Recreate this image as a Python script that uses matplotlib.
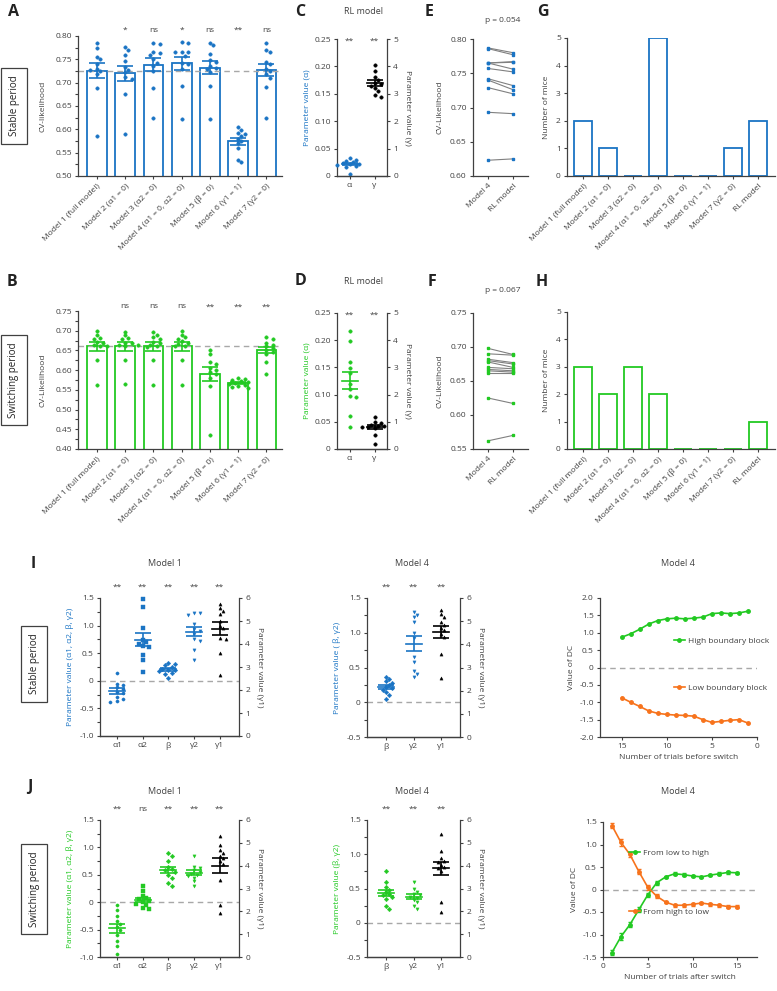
import matplotlib
matplotlib.use('Agg')
import matplotlib.pyplot as plt
from matplotlib.lines import Line2D
from matplotlib.ticker import MultipleLocator
import numpy as np

W, H = 777, 991
BLUE = '#1a74c4'
GREEN = '#22c922'
ORANGE = '#f7731c'
GRAY = '#a8a8a8'
TXT = '#404040'

plt.rcParams['font.family'] = ['Open Sans', 'DejaVu Sans']
plt.rcParams['font.size'] = 6
plt.rcParams['text.color'] = TXT
plt.rcParams['axes.labelcolor'] = TXT
plt.rcParams['xtick.color'] = TXT
plt.rcParams['ytick.color'] = TXT

# ---------------- data ----------------
models7 = ['Model 1 (full model)', 'Model 2 (α1 = 0)', 'Model 3 (α2 = 0)',
           'Model 4 (α1 = 0, α2 = 0)', 'Model 5 (β = 0)', 'Model 6 (γ1 = 1)',
           'Model 7 (γ2 = 0)']
models8 = models7 + ['RL model']

stable_cv = [
    [0.785, 0.775, 0.755, 0.750, 0.740, 0.730, 0.725, 0.728, 0.718, 0.688, 0.585],
    [0.777, 0.770, 0.760, 0.747, 0.733, 0.728, 0.722, 0.712, 0.708, 0.675, 0.590],
    [0.785, 0.782, 0.765, 0.763, 0.760, 0.750, 0.742, 0.735, 0.725, 0.688, 0.625],
    [0.787, 0.786, 0.765, 0.765, 0.765, 0.757, 0.742, 0.740, 0.729, 0.693, 0.623],
    [0.785, 0.780, 0.762, 0.748, 0.745, 0.735, 0.732, 0.730, 0.722, 0.692, 0.622],
    [0.605, 0.598, 0.593, 0.590, 0.585, 0.580, 0.575, 0.570, 0.560, 0.535, 0.530],
    [0.785, 0.770, 0.765, 0.745, 0.740, 0.730, 0.725, 0.718, 0.710, 0.690, 0.625],
]
stable_sig = ['', '*', 'ns', '*', 'ns', '**', 'ns']

switch_cv = [
    [0.700, 0.690, 0.681, 0.679, 0.672, 0.668, 0.665, 0.662, 0.660, 0.625, 0.562],
    [0.698, 0.688, 0.682, 0.678, 0.670, 0.668, 0.665, 0.663, 0.660, 0.625, 0.565],
    [0.698, 0.690, 0.684, 0.680, 0.672, 0.668, 0.664, 0.662, 0.658, 0.625, 0.562],
    [0.700, 0.690, 0.683, 0.679, 0.673, 0.668, 0.666, 0.662, 0.660, 0.625, 0.562],
    [0.650, 0.640, 0.620, 0.615, 0.605, 0.600, 0.595, 0.590, 0.580, 0.560, 0.435],
    [0.580, 0.578, 0.575, 0.572, 0.570, 0.568, 0.566, 0.563, 0.560, 0.558, 0.555],
    [0.685, 0.680, 0.670, 0.665, 0.660, 0.655, 0.650, 0.645, 0.640, 0.620, 0.590],
]
switch_sig = ['', 'ns', 'ns', 'ns', '**', '**', '**']

rl_stable_alpha = [0.032, 0.030, 0.027, 0.025, 0.023, 0.022, 0.021, 0.020, 0.018, 0.016, 0.004]
rl_stable_gamma = [4.05, 3.85, 3.60, 3.50, 3.40, 3.35, 3.30, 3.20, 3.10, 2.95, 2.90]
rl_switch_alpha = [0.217, 0.198, 0.160, 0.148, 0.140, 0.120, 0.110, 0.097, 0.095, 0.060, 0.040]
rl_switch_gamma = [1.16, 1.00, 0.96, 0.90, 0.86, 0.84, 0.80, 0.80, 0.76, 0.50, 0.20]

e_model4 = [0.787, 0.786, 0.765, 0.765, 0.765, 0.757, 0.742, 0.740, 0.729, 0.693, 0.623]
e_rl = [0.780, 0.777, 0.767, 0.766, 0.756, 0.752, 0.732, 0.726, 0.720, 0.691, 0.625]
f_model4 = [0.698, 0.690, 0.682, 0.680, 0.678, 0.670, 0.667, 0.665, 0.662, 0.625, 0.562]
f_rl = [0.689, 0.688, 0.677, 0.675, 0.670, 0.668, 0.665, 0.663, 0.662, 0.617, 0.570]

best_stable = [2, 1, 0, 5, 0, 0, 1, 2]
best_switch = [3, 2, 3, 2, 0, 0, 0, 1]

params_m1 = ['α1', 'α2', 'β', 'γ2', 'γ1']
params_m4 = ['β', 'γ2', 'γ1']
markers_m1 = ['o', 's', 'D', 'v', '^']
markers_m4 = ['D', 'v', '^']

i_m1 = [
    [0.15, -0.05, -0.08, -0.12, -0.15, -0.20, -0.22, -0.30, -0.33, -0.37, -0.38],
    [1.48, 1.34, 0.96, 0.74, 0.70, 0.67, 0.63, 0.62, 0.47, 0.38, 0.16],
    [0.32, 0.30, 0.28, 0.25, 0.22, 0.20, 0.20, 0.18, 0.15, 0.12, 0.05],
    [1.23, 1.22, 1.20, 1.03, 0.93, 0.90, 0.85, 0.75, 0.72, 0.56, 0.38],
]
i_m1_g1 = [5.75, 5.55, 5.45, 5.30, 5.00, 4.80, 4.70, 4.25, 4.20, 3.60, 2.65]
i_m1_sig = ['**', '**', '**', '**', '**']

i_m4 = [
    [0.37, 0.34, 0.30, 0.28, 0.25, 0.22, 0.20, 0.18, 0.15, 0.10, 0.05],
    [1.30, 1.25, 1.22, 1.15, 1.00, 0.92, 0.65, 0.58, 0.45, 0.40, 0.36],
]
i_m4_g1 = [5.50, 5.30, 5.20, 4.95, 4.85, 4.70, 4.60, 4.45, 4.30, 3.60, 2.55]
i_m4_sig = ['**', '**', '**']

j_m1 = [
    [-0.05, -0.15, -0.25, -0.35, -0.40, -0.45, -0.50, -0.60, -0.70, -0.80, -0.95],
    [0.30, 0.20, 0.12, 0.08, 0.05, 0.03, 0.00, -0.03, -0.05, -0.10, -0.12],
    [0.90, 0.85, 0.75, 0.65, 0.60, 0.58, 0.55, 0.50, 0.45, 0.35, 0.30],
    [0.85, 0.65, 0.62, 0.58, 0.55, 0.52, 0.50, 0.48, 0.45, 0.38, 0.30],
]
j_m1_g1 = [5.28, 4.92, 4.68, 4.56, 4.44, 4.32, 4.20, 4.08, 3.36, 2.28, 1.92]
j_m1_sig = ['**', 'ns', '**', '**', '**']

j_m4 = [
    [0.75, 0.60, 0.52, 0.48, 0.45, 0.42, 0.40, 0.38, 0.35, 0.25, 0.20],
    [0.60, 0.50, 0.45, 0.42, 0.40, 0.38, 0.36, 0.33, 0.30, 0.25, 0.20],
]
j_m4_g1 = [5.40, 4.65, 4.35, 4.20, 4.14, 4.05, 3.96, 3.90, 3.75, 2.40, 1.95]
j_m4_sig = ['**', '**', '**']

trials = np.arange(1, 16)
dc_high = [1.62, 1.57, 1.55, 1.57, 1.55, 1.45, 1.42, 1.40, 1.42, 1.40, 1.35, 1.25, 1.10, 0.97, 0.87]
dc_low = [-1.60, -1.50, -1.52, -1.55, -1.58, -1.50, -1.40, -1.38, -1.37, -1.35, -1.32, -1.25, -1.12, -1.00, -0.87]
dc_low_to_high = [-1.40, -1.05, -0.78, -0.45, -0.12, 0.15, 0.28, 0.35, 0.33, 0.30, 0.28, 0.32, 0.35, 0.38, 0.37]
dc_low_to_high_sem = [0.06, 0.08, 0.06, 0.06, 0.05, 0.04, 0.03, 0.03, 0.03, 0.03, 0.03, 0.03, 0.03, 0.03, 0.03]
dc_high_to_low = [1.42, 1.05, 0.78, 0.40, 0.05, -0.15, -0.28, -0.35, -0.35, -0.33, -0.30, -0.33, -0.35, -0.38, -0.38]
dc_high_to_low_sem = [0.06, 0.08, 0.06, 0.06, 0.05, 0.04, 0.03, 0.03, 0.03, 0.03, 0.03, 0.03, 0.03, 0.03, 0.03]

# ---------------- helpers ----------------
fig = plt.figure(figsize=(W / 100, H / 100), dpi=100)


def add_ax(l, t, r, b):
    return fig.add_axes([l / W, 1 - b / H, (r - l) / W, (b - t) / H])


def fpx(x, y):
    return x / W, 1 - y / H


def style(ax, right=False):
    for s in ['top', 'right', 'left', 'bottom']:
        ax.spines[s].set_visible(False)
    ax.spines['bottom'].set_visible(True)
    ax.spines['right' if right else 'left'].set_visible(True)
    for s in ax.spines.values():
        s.set_linewidth(0.9)
        s.set_color(TXT)
    ax.tick_params(length=2.5, width=0.8, color=TXT, pad=2, labelsize=6)
    ax.tick_params(which='minor', length=2, width=0.8, color=TXT)


def ppu(ax):
    tr = ax.transData
    return tr.transform((1, 0))[0] - tr.transform((0, 0))[0]


def swarm_x(ax, x0, ys, d=3.8):
    # simple beeswarm: place each dot at the nearest free horizontal slot
    tr = ax.transData
    k_px = ppu(ax)
    placed, xs = [], []
    for y in ys:
        py = tr.transform((x0, y))[1]
        px = 0
        for k in [0, 1, -1, 2, -2, 3, -3, 4, -4, 5, -5]:
            px = k * d * 0.85
            if all((px - qx) ** 2 + (py - qy) ** 2 >= d ** 2 for qx, qy in placed):
                break
        placed.append((px, py))
        xs.append(x0 + px / k_px)
    return xs


def dots(ax, x0, ys, color, marker='o', ms=2.5, d=3.8):
    xs = swarm_x(ax, x0, ys, d)
    ax.plot(xs, ys, ls='none', marker=marker, ms=ms, color=color, mec=color,
            mew=0.3, zorder=4, clip_on=False)


def mean_sem(ax, x0, ys, color, line_px=16, cap=5.5, lw=1.2):
    m = np.mean(ys)
    s = np.std(ys, ddof=1) / np.sqrt(len(ys))
    hw = line_px / 2 / ppu(ax)
    ax.plot([x0 - hw, x0 + hw], [m, m], color=color, lw=lw, zorder=5)
    ax.errorbar(x0, m, yerr=s, fmt='none', ecolor=color, elinewidth=lw,
                capsize=cap, capthick=lw, zorder=5)


def dec(v, n):
    return '0' if abs(v) < 1e-9 else f'{v:.{n}f}'


def set_yticks(ax, ticks, n, minor=None):
    ax.set_yticks(ticks)
    ax.set_yticklabels([dec(t, n) for t in ticks])
    if minor:
        ax.yaxis.set_minor_locator(MultipleLocator(minor))


def rot_labels(ax, labels):
    ax.set_xticks(range(len(labels)))
    ax.set_xticklabels(labels, rotation=45, ha='right', va='top', rotation_mode='anchor')


def panel(letter, x, y):
    fig.text(*fpx(x, y), letter, fontsize=11.5, fontweight='bold', color='#222222',
             ha='left', va='center')


def period_box(text, x, y):
    fig.text(*fpx(x, y), text, rotation=90, fontsize=7, ha='center', va='center',
             color='#222222',
             bbox=dict(boxstyle='square,pad=0.75', fc='white', ec=TXT, lw=0.9))


# ---------------- A / B: CV likelihood bars ----------------
def cv_bars(box, data, sig, color, ylim, ticks, ylabel, sig_y):
    ax = add_ax(*box)
    style(ax)
    ax.set_xlim(-0.67, 6.55)
    ax.set_ylim(*ylim)
    x = np.arange(len(data))
    means = [np.mean(v) for v in data]
    sems = [np.std(v, ddof=1) / np.sqrt(len(v)) for v in data]
    ax.bar(x, means, width=0.7, facecolor='white', edgecolor=color, lw=1.3, zorder=2)
    ax.axhline(means[0], color=GRAY, lw=1, ls=(0, (4, 3)), zorder=2.5)
    ax.errorbar(x, means, yerr=sems, fmt='none', ecolor=color, elinewidth=1.2,
                capsize=6, capthick=1.2, zorder=5)
    for i, v in enumerate(data):
        dots(ax, i, v, color)
        ax.text(i, sig_y, sig[i], transform=ax.get_xaxis_transform(), ha='center',
                va='center', fontsize=6)
    set_yticks(ax, ticks, 2, minor=0.025)
    rot_labels(ax, models7)
    ax.set_ylabel(ylabel, labelpad=6)
    return ax


cv_bars((78, 36, 282, 176), stable_cv, stable_sig, BLUE, (0.5, 0.8),
        np.arange(0.5, 0.801, 0.05), 'CV-likelihood', 1.04)
cv_bars((78, 311, 282, 449), switch_cv, switch_sig, GREEN, (0.4, 0.75),
        np.arange(0.4, 0.751, 0.05), 'CV-Likelihood', 1.03)


# ---------------- C / D: RL model parameters ----------------
def rl_params(box, alpha, gamma, color):
    ax = add_ax(*box)
    style(ax)
    ax.set_xlim(-0.5, 1.5)
    ax.set_ylim(0, 0.25)
    set_yticks(ax, np.arange(0, 0.251, 0.05), 2)
    ax.set_xticks([0, 1])
    ax.set_xticklabels(['α', 'γ'])
    ax.set_ylabel('Parameter value (α)', color=color, labelpad=3)
    axr = ax.twinx()
    style(axr, right=True)
    axr.set_ylim(0, 5)
    axr.set_yticks(range(6))
    axr.set_ylabel('Parameter value (γ)', rotation=270, labelpad=9)
    dots(ax, 0, alpha, color)
    mean_sem(ax, 0, alpha, color)
    dots(axr, 1, gamma, 'black')
    mean_sem(axr, 1, gamma, 'black')
    for xi in [0, 1]:
        ax.text(xi, 0.985, '**', transform=ax.get_xaxis_transform(), ha='center',
                va='center', fontsize=6)


rl_params((337, 39, 387, 176), rl_stable_alpha, rl_stable_gamma, BLUE)
rl_params((337, 313, 387, 449), rl_switch_alpha, rl_switch_gamma, GREEN)


# ---------------- E / F: Model 4 vs RL ----------------
def paired(box, a, b, color, ylim, ticks):
    ax = add_ax(*box)
    style(ax)
    ax.set_xlim(-0.6, 1.6)
    ax.set_ylim(*ylim)
    for y0, y1 in zip(a, b):
        ax.plot([0, 1], [y0, y1], color='#808080', lw=0.8, zorder=2)
    ax.plot([0] * len(a), a, ls='none', marker='s', ms=2, color=color, zorder=3)
    ax.plot([1] * len(b), b, ls='none', marker='s', ms=2, color=color, zorder=3)
    set_yticks(ax, ticks, 2)
    rot_labels(ax, ['Model 4', 'RL model'])
    ax.set_ylabel('CV-Likelihood', labelpad=5)
    return ax


paired((473, 39, 528, 176), e_model4, e_rl, BLUE, (0.6, 0.8), np.arange(0.6, 0.801, 0.05))
paired((473, 313, 528, 449), f_model4, f_rl, GREEN, (0.55, 0.75), np.arange(0.55, 0.751, 0.05))


# ---------------- G / H: best model counts ----------------
def counts(box, vals, color):
    ax = add_ax(*box)
    style(ax)
    ax.set_xlim(-0.64, 7.68)
    ax.set_ylim(0, 5)
    ax.bar(range(len(vals)), vals, width=0.7, facecolor='white', edgecolor=color, lw=1.3)
    ax.set_yticks(range(6))
    rot_labels(ax, models8)
    ax.set_ylabel('Number of mice', labelpad=4)


counts((567, 38, 775, 176), best_stable, BLUE)
counts((567, 312, 775, 449), best_switch, GREEN)


# ---------------- I / J: model parameters ----------------
def model_params(box, names, vals, g1, markers, sig, color, ylim, ylabel, xlim):
    ax = add_ax(*box)
    style(ax)
    ax.set_xlim(*xlim)
    ax.set_ylim(*ylim)
    ax.axhline(0, color=GRAY, lw=1, ls=(0, (4, 3)), zorder=1)
    set_yticks(ax, np.arange(ylim[0], ylim[1] + 0.01, 0.5), 1, minor=0.25)
    ax.set_xticks(range(len(names)))
    ax.set_xticklabels(names)
    ax.set_ylabel(ylabel, color=color, labelpad=4)
    axr = ax.twinx()
    style(axr, right=True)
    axr.set_ylim(0, 6)
    axr.set_yticks(range(7))
    axr.set_ylabel('Parameter value (γ1)', rotation=270, labelpad=9)
    for i, v in enumerate(vals):
        dots(ax, i, v, color, marker=markers[i], ms=2.3)
        mean_sem(ax, i, v, color)
    k = len(vals)
    dots(axr, k, g1, 'black', marker=markers[k], ms=2.3)
    mean_sem(axr, k, g1, 'black')
    for i, s in enumerate(sig):
        ax.text(i, 1.075, s, transform=ax.get_xaxis_transform(), ha='center',
                va='center', fontsize=6)


model_params((100, 598, 239, 736), params_m1, i_m1, i_m1_g1, markers_m1, i_m1_sig, BLUE,
             (-1.0, 1.5), 'Parameter value (α1, α2, β, γ2)', (-0.66, 4.75))
model_params((367, 598, 460, 737), params_m4, i_m4, i_m4_g1, markers_m4, i_m4_sig, BLUE,
             (-0.5, 1.5), 'Parameter value ( β, γ2)', (-0.69, 2.69))
model_params((100, 820, 239, 957), params_m1, j_m1, j_m1_g1, markers_m1, j_m1_sig, GREEN,
             (-1.0, 1.5), 'Parameter value (α1, α2, β, γ2)', (-0.66, 4.75))
model_params((367, 820, 460, 957), params_m4, j_m4, j_m4_g1, markers_m4, j_m4_sig, GREEN,
             (-0.5, 1.5), 'Parameter value (β, γ2)', (-0.69, 2.69))


def legend_pair(ax, labels, pos):
    handles = [Line2D([], [], color=GREEN, marker='o', ms=2.5, lw=1.2),
               Line2D([], [], color=ORANGE, marker='o', ms=2.5, lw=1.2)]
    legs = []
    for h, lab, (x, y) in zip(handles, labels, pos):
        leg = ax.legend([h], [lab], loc='center left', bbox_to_anchor=(x, y), frameon=False,
                        handlelength=1.3, handletextpad=0.4, borderpad=0, borderaxespad=0,
                        fontsize=6)
        legs.append(leg)
    ax.add_artist(legs[0])


# I right: before switch
ax = add_ax(600, 598, 757, 737)
style(ax)
ax.set_xlim(17.4, 0)
ax.set_ylim(-2, 2)
ax.axhline(0, color=GRAY, lw=1, ls=(0, (4, 3)), zorder=1)
ax.plot(trials, dc_high, '-o', color=GREEN, ms=2.5, lw=1.2)
ax.plot(trials, dc_low, '-o', color=ORANGE, ms=2.5, lw=1.2)
ax.set_xticks([15, 10, 5, 0])
set_yticks(ax, np.arange(-2, 2.01, 0.5), 1)
ax.set_xlabel('Number of trials before switch', labelpad=3)
ax.set_ylabel('Value of DC', labelpad=3)
legend_pair(ax, ['High boundary block', 'Low boundary block'], [(0.47, 0.69), (0.47, 0.35)])

# J right: after switch
ax = add_ax(603, 822, 757, 957)
style(ax)
ax.set_xlim(0, 17.2)
ax.set_ylim(-1.5, 1.5)
ax.axhline(0, color=GRAY, lw=1, ls=(0, (4, 3)), zorder=1)
ax.errorbar(trials, dc_low_to_high, yerr=dc_low_to_high_sem, fmt='-o', color=GREEN, ms=2.5,
            lw=1.2, capsize=1.5, elinewidth=0.8)
ax.errorbar(trials, dc_high_to_low, yerr=dc_high_to_low_sem, fmt='-o', color=ORANGE, ms=2.5,
            lw=1.2, capsize=1.5, elinewidth=0.8)
ax.set_xticks([0, 5, 10, 15])
set_yticks(ax, np.arange(-1.5, 1.51, 0.5), 1)
ax.set_xlabel('Number of trials after switch', labelpad=3)
ax.set_ylabel('Value of DC', labelpad=3)
legend_pair(ax, ['From low to high', 'From high to low'], [(0.17, 0.77), (0.17, 0.33)])

# ---------------- titles, letters, boxes ----------------
for t, x, y in [('RL model', 363, 11), ('RL model', 363, 282),
                ('p = 0.054', 503, 20), ('p = 0.067', 503, 290),
                ('Model 1', 165, 564), ('Model 4', 412, 564), ('Model 4', 678, 564),
                ('Model 1', 165, 791), ('Model 4', 412, 791), ('Model 4', 678, 791)]:
    fig.text(*fpx(x, y), t, ha='center', va='center',
             fontsize=6.5 if ('Model' in t or 'RL' in t) else 6)

for letter, x, y in [('A', 8, 12), ('B', 7, 282), ('C', 295, 12), ('D', 295, 281),
                     ('E', 425, 12), ('F', 428, 282), ('G', 537, 12), ('H', 536, 282),
                     ('I', 31, 564), ('J', 27, 787)]:
    panel(letter, x, y)

period_box('Stable period', 14, 106)
period_box('Switching period', 14, 380)
period_box('Stable period', 34, 664)
period_box('Switching period', 34, 889)

fig.savefig('out.png', dpi=100, facecolor='white')
